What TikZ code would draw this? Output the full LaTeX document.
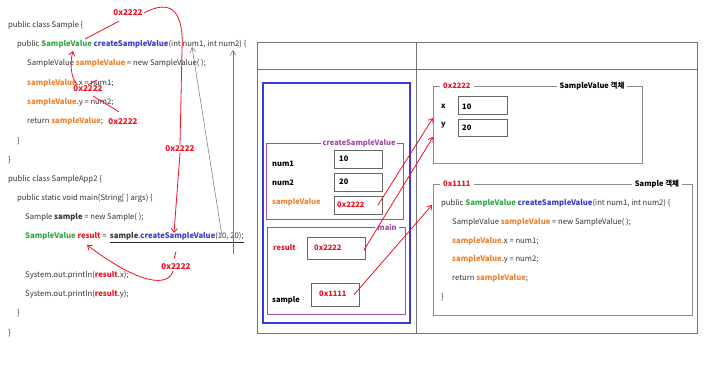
\documentclass[tikz,border=0pt]{standalone}
\usepackage{fontspec}
\setmainfont{Noto Sans CJK KR}
\usetikzlibrary{arrows.meta,calc}
\definecolor{cgreen}{HTML}{2DA84A}
\definecolor{cblue}{HTML}{3B3BC8}
\definecolor{corange}{HTML}{F0822E}
\definecolor{cred}{HTML}{F01020}
\definecolor{cpurple}{HTML}{A24AA8}
\definecolor{cframe}{HTML}{7F7F7F}
\definecolor{cstack}{HTML}{3A3AD6}
\definecolor{ctext}{HTML}{333333}
\newcommand\kTy[1]{\textcolor{cgreen}{\textbf{#1}}}
\newcommand\kFn[1]{\textcolor{cblue}{\textbf{#1}}}
\newcommand\kVar[1]{\textcolor{corange}{\textbf{#1}}}
\newcommand\kRes[1]{\textcolor{cred}{\textbf{#1}}}
\begin{document}
\begin{tikzpicture}[x=1pt,y=-1pt,
  code/.style={anchor=west, inner sep=0pt, font=\fontsize{7.7}{10}\selectfont, text=ctext},
  addr/.style={font=\fontsize{8}{10}\selectfont\bfseries, text=cred, inner sep=1pt},
  redln/.style={cred, line width=0.8pt},
  redarr/.style={redln, -{Straight Barb[length=4pt,width=6pt]}},
  grayarr/.style={black!55, line width=0.5pt, -{Straight Barb[length=5pt,width=6pt]}},
  frm/.style={draw, inner sep=0pt, anchor=north west},
  pframe/.style={frm, draw=cpurple, line width=1.2pt},
  vbox/.style={frm, draw=black!60, line width=0.8pt},
  oframe/.style={frm, draw=black!45, line width=0.8pt},
  ptitle/.style={fill=white, inner xsep=2pt, inner ysep=0pt, text=cpurple, font=\fontsize{7.5}{9}\selectfont\bfseries},
  htitle/.style={fill=white, inner xsep=3pt, inner ysep=0pt, font=\fontsize{7.5}{9}\selectfont\bfseries},
  lbl/.style={anchor=west, inner sep=0pt, font=\fontsize{7.5}{9}\selectfont\bfseries}
]
\useasboundingbox[fill=white] (0,0) rectangle (716,390);

% ---------- left code ----------
\node[code] (l1) at (8,25) {public class Sample \{};
\node[code] (l2) at (17,44) {public \kTy{SampleValue} \kFn{createSampleValue}(int num1, int num2) \{};
\node[code] (l3) at (27,63) {SampleValue \kVar{sampleValue} = new SampleValue( );};
\node[code] (l4) at (27,83) {\kVar{sampleValue}.x = num1;};
\node[code] (l5) at (27,102) {\kVar{sampleValue}.y = num2;};
\node[code] (l6) at (27,121) {return \kVar{sampleValue};};
\node[code] (l7) at (17,141) {\}};
\node[code] (l8) at (8,160) {\}};
\node[code] (m1) at (8,179) {public class SampleApp2 \{};
\node[code] (m2) at (17,198) {public static void main(String[ ] args) \{};
\node[code] (m3) at (25,217) {Sample \textbf{sample} = new Sample( );};
\node[code] (m4) at (25,236) {\kTy{SampleValue} \kRes{result} =};
\node[code, anchor=base west] (m4b) at ($(m4.base east)+(3,0)$) {\textbf{sample}.\kFn{createSampleValue}(10, 20);};
\node[code] (m5) at (25,275) {System.out.println(\kRes{result}.x);};
\node[code] (m6) at (25,294) {System.out.println(\kRes{result}.y);};
\node[code] (m7) at (17,313) {\}};
\node[code] (m8) at (8,333) {\}};
\draw[line width=1.3pt, black!85] ($(m4b.base west)+(0,4)$) -- ($(m4b.base east)+(0,4)$);

% ---------- annotations ----------
\node[addr] (a1) at (128,13) {0x2222};
\node[addr] (a2) at (88,89) {0x2222};
\node[addr] (a3) at (123,122) {0x2222};
\node[addr] (a4) at (180,149) {0x2222};
\node[addr] (a5) at (176,267) {0x2222};
\coordinate (tRet) at (85,39);
\coordinate (tSV) at (73,51);
\coordinate (tX) at (97,80);
\coordinate (tNum2) at (93,96);
\coordinate (tCall) at (174,233);
\coordinate (tRes) at (87,245);

\draw[redln] ($(a1.south)+(-9,4)$) -- (tRet);
\draw[redln] (a1.east) .. controls (172,-2) and (184,12) .. (182,50) -- (a4.north);
\draw[redarr] (a4.south) -- (tCall);
\draw[redarr] ($(a2.north west)+(5,0)$) .. controls (70,76) and (70,62) .. (tSV);
\draw[redln] (a2.north) -- (tX);
\draw[redln] ($(a3.north)+(-4,-6)$) -- (tNum2);
\draw[redln] ($(a5.north)+(0,-11)$) -- ($(a5.north)+(-2,-4)$);
\draw[redarr] ($(a5.south)+(-3,0)$) .. controls (168,287) and (140,285) .. (tRes);

% gray parameter arrows
\coordinate (g10) at (222,236);
\coordinate (g20) at (233,254);
\coordinate (gn1) at (192,47);
\coordinate (gn2) at (233,50);
\draw[grayarr] (g10) -- (gn1);
\draw[grayarr] (g20) -- (gn2);

% ---------- memory frame ----------
\node[frm, draw=black!55, line width=0.7pt, minimum width=440, minimum height=291] (outer) at (257,42) {};
\draw[black!55, line width=0.7pt] (257,69) -- (697,69);
\draw[black!55, line width=0.7pt] (416,42) -- (416,333);

% stack
\node[frm, draw=cstack, line width=2pt, minimum width=147, minimum height=240] (stack) at (262,82) {};
\node[pframe, minimum width=137, minimum height=76] (csv) at (266,143) {};
\node[ptitle] (csvt) at (359,143) {createSampleValue};
\node[pframe, minimum width=138, minimum height=87] (mainf) at (267,227) {};
\node[ptitle] (maint) at (387,227) {main};

\node[lbl] (tn1) at (272,164) {num1};
\node[lbl] (tn2) at (272,183) {num2};
\node[lbl, text=corange] (tsv) at (272,202) {sampleValue};
\node[vbox, minimum width=48, minimum height=18] (n1box) at (334,150) {};
\node[vbox, minimum width=48, minimum height=18] (n2box) at (334,173) {};
\node[vbox, minimum width=48, minimum height=18] (svbox) at (334,196) {};
\node[lbl] (v10) at (339,159) {10};
\node[lbl] (v20) at (339,182) {20};
\node[lbl, text=cred] (vsv) at (337,205) {0x2222};

\node[lbl, text=cred] (tres) at (273,248) {result};
\node[lbl] (tsmp) at (272,300) {sample};
\node[vbox, minimum width=58, minimum height=22] (resbox) at (307,237) {};
\node[vbox, minimum width=48, minimum height=23] (smpbox) at (311,283) {};
\node[lbl, text=cred] (vres) at (314,248) {0x2222};
\node[lbl, text=cred] (vsmp) at (319,294) {0x1111};

% heap: SampleValue object
\node[oframe, minimum width=209, minimum height=77] (hsv) at (433,86) {};
\node[htitle, text=cred, anchor=west] (hsva) at (440,86) {0x2222};
\node[htitle] (hsvt) at (592,86) {SampleValue 객체};
\node[lbl] (hx) at (441,106) {x};
\node[lbl] (hy) at (441,125) {y};
\node[vbox, minimum width=49, minimum height=18] (hxbox) at (458,96) {};
\node[vbox, minimum width=49, minimum height=17] (hybox) at (458,119) {};
\node[lbl] (hx10) at (462,107) {10};
\node[lbl] (hy20) at (462,128) {20};

% heap: Sample object
\node[oframe, minimum width=259, minimum height=131] (hs) at (433,184) {};
\node[htitle, text=cred, anchor=west] (hsa) at (440,184) {0x1111};
\node[htitle] (hst) at (657,184) {Sample 객체};
\node[code] (h1) at (441,203) {public \kTy{SampleValue} \kFn{createSampleValue}(int num1, int num2) \{};
\node[code] (h2) at (452,222) {SampleValue \kVar{sampleValue} = new SampleValue( );};
\node[code] (h3) at (452,241) {\kVar{sampleValue}.x = num1;};
\node[code] (h4) at (452,259) {\kVar{sampleValue}.y = num2;};
\node[code] (h5) at (452,278) {return \kVar{sampleValue};};
\node[code] (h6) at (441,297) {\}};

% references stack -> heap
\draw[redarr] ($(svbox.east)+(-5,0)$) -- ($(hsv.north west)+(0,32)$);
\draw[redarr] ($(resbox.east)+(-2,2)$) -- ($(hsv.north west)+(0,51)$);
\draw[redarr] ($(smpbox.east)+(-6,0)$) -- ($(hs.north west)+(-1,21)$);
\end{tikzpicture}
\end{document}
